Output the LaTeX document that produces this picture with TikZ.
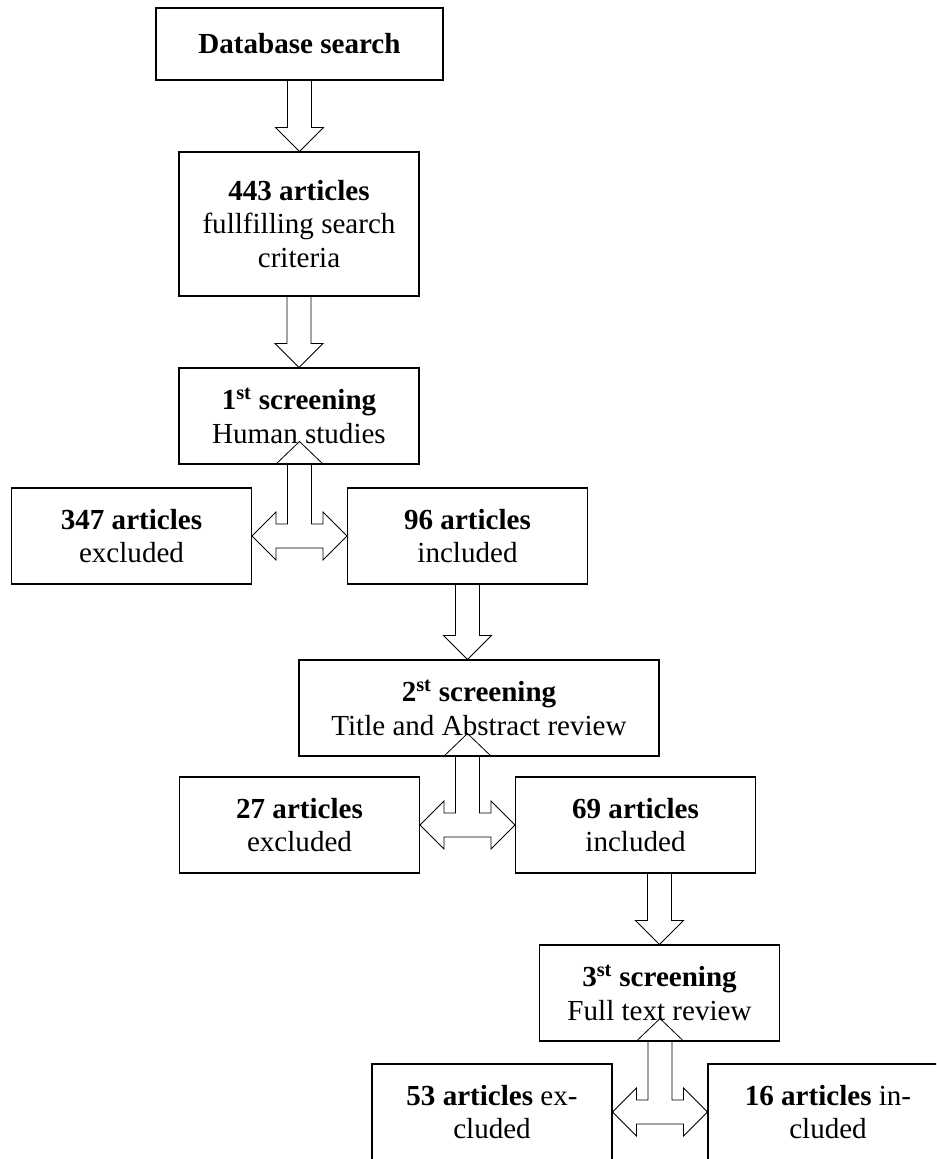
\documentclass[tikz,border=0pt]{standalone}
\usepackage{fontspec}
\setmainfont{Liberation Serif}
\usetikzlibrary{calc}

\tikzset{
  stage/.style={draw, line width=0.8pt, inner sep=0pt, align=center,
    minimum width=180pt, minimum height=72pt,
    font=\fontsize{21.8}{25.2}\selectfont},
  blockarr/.style={draw, line width=0.6pt, line join=miter},
}

% down block arrow: #1 from node, #2 to node, #3 node giving the axis
\newcommand{\downarr}[3]{%
  \draw[blockarr] let \p1=(#1.south), \p2=(#2.north), \p3=(#3) in
    (\x3-9pt,\y1) -- (\x3-9pt,\y2-18pt) -- (\x3-18pt,\y2-18pt) -- (\x3,\y2)
    -- (\x3+18pt,\y2-18pt) -- (\x3+9pt,\y2-18pt) -- (\x3+9pt,\y1) -- cycle;}

% T block arrow: #1 screening node, #2 excluded node, #3 included node
\newcommand{\tarr}[3]{%
  \draw[blockarr] let \p1=(#1.south), \p2=(#2.east), \p3=(#3.west),
      \p4=($(#2.east)!.5!(#3.west)$) in
    (\x4,\y1-17.25pt) -- (\x4+18pt,\y1) -- (\x4+9pt,\y1) -- (\x4+9pt,\y2-9pt)
    -- (\x3-18pt,\y2-9pt) -- (\x3-18pt,\y2-18pt) -- (\x3,\y2)
    -- (\x3-18pt,\y2+18pt) -- (\x3-18pt,\y2+9pt) -- (\x2+18pt,\y2+9pt)
    -- (\x2+18pt,\y2+18pt) -- (\x2,\y2) -- (\x2+18pt,\y2-18pt)
    -- (\x2+18pt,\y2-9pt) -- (\x4-9pt,\y2-9pt) -- (\x4-9pt,\y1)
    -- (\x4-18pt,\y1) -- cycle;}

\begin{document}
\begin{tikzpicture}[x=0.75pt,y=0.75pt,yscale=-1,xscale=1]
\clip (0,0) rectangle (936,1159);

%Shape: Rectangle
\node (db) at (299.5,44) [stage, minimum width=215.25pt, minimum height=54pt] {\textbf{Database search}};
%Shape: Rectangle
\node (a443) at (299,224) [stage, minimum height=108pt] {\textbf{443 articles}\\fullfilling search\\criteria};
%Shape: Rectangle
\node (scr1) at (299,416) [stage] {\textbf{1\textsuperscript{st} screening}\\Human studies};
%Shape: Rectangle
\node (excl1) at (131.5,536) [stage] {\textbf{347 articles}\\excluded};
%Shape: Rectangle
\node (incl1) at (467.5,536) [stage] {\textbf{96 articles}\\included};
%Shape: Rectangle
\node (scr2) at (479,708) [stage, minimum width=270pt] {\textbf{2\textsuperscript{st} screening}\\Title and Abstract review};
%Shape: Rectangle
\node (excl2) at (299.5,825) [stage] {\textbf{27 articles}\\excluded};
%Shape: Rectangle
\node (incl2) at (635.5,825) [stage] {\textbf{69 articles}\\included};
%Shape: Rectangle
\node (scr3) at (659.5,993) [stage] {\textbf{3\textsuperscript{st} screening}\\Full text review};
%Shape: Rectangle
\node (excl3) at (492,1112) [stage] {\textbf{53 articles} ex-\\cluded};
%Shape: Rectangle
\node (incl3) at (828,1112) [stage] {\textbf{16 articles} in-\\cluded};

%Down Arrows
\downarr{db}{a443}{db}
\downarr{a443}{scr1}{scr1}
\downarr{incl1}{scr2}{incl1}
\downarr{incl2}{scr3}{scr3}

%T Arrows
\tarr{scr1}{excl1}{incl1}
\tarr{scr2}{excl2}{incl2}
\tarr{scr3}{excl3}{incl3}

\end{tikzpicture}
\end{document}
